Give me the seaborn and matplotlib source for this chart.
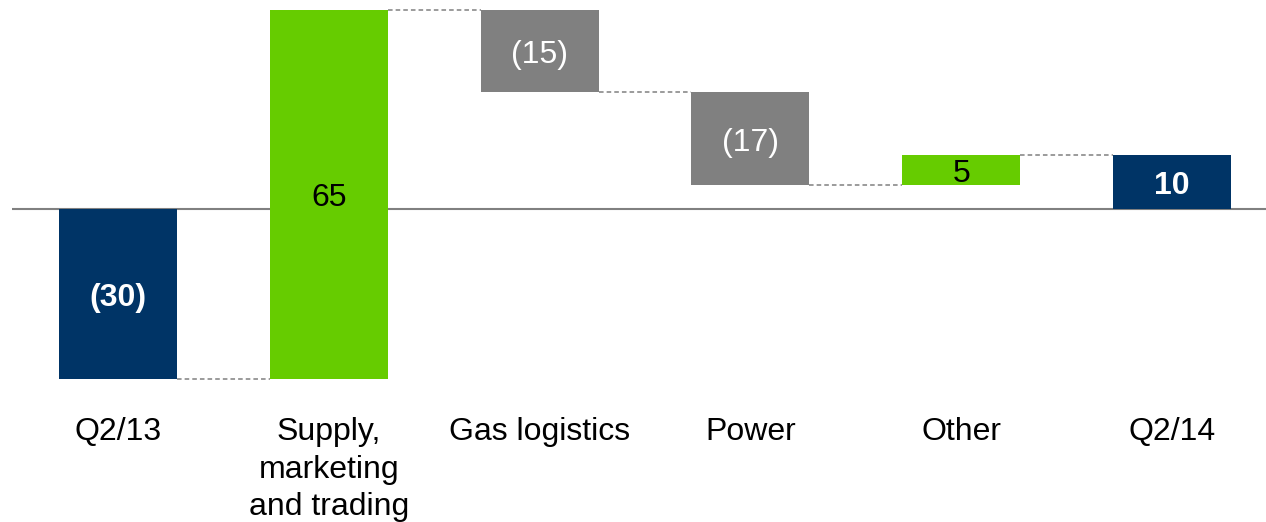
import numpy as np
import pandas as pd
import matplotlib
matplotlib.use("Agg")
import matplotlib.pyplot as plt
import seaborn as sns

# Waterfall: opening result, drivers, closing result
categories = ["Q2/13", "Supply,\nmarketing\nand trading", "Gas logistics", "Power", "Other", "Q2/14"]
opening = -30.0
changes = [65.2, -14.5, -16.5, 5.4]
kinds = ["total", "up", "down", "down", "up", "total"]

NAVY = "#003466"
GREEN = "#66CC00"
GREY = "#808080"
kind_colors = {"total": NAVY, "up": GREEN, "down": GREY}

# running totals
levels = [opening]
for c in changes:
    levels.append(levels[-1] + c)
closing = levels[-1]

heights = [opening] + changes + [closing]
bottoms = [0.0] + levels[:-1] + [0.0]

df = pd.DataFrame({"category": categories, "height": heights})

sns.set_theme(style="white")
plt.rcParams["font.family"] = ["Liberation Sans", "DejaVu Sans"]

W, H = 1266, 522
fig = plt.figure(figsize=(W / 100, H / 100), dpi=100)
ax = fig.add_axes([12 / W, (H - 400) / H, (W - 12) / W, 400 / H])

bar_w = 0.56
sns.barplot(data=df, x="category", y="height", order=categories,
            bottom=bottoms, width=bar_w, color=GREY, ax=ax, zorder=3,
            linewidth=0)

for patch, kind in zip(ax.patches, kinds):
    patch.set_facecolor(kind_colors[kind])
    patch.set_edgecolor("none")

ax.axhline(0, color=GREY, lw=1.5, zorder=1)

# dashed connectors between consecutive bars
for i, lvl in enumerate(levels):
    ax.plot([i + bar_w / 2, i + 1 - bar_w / 2], [lvl, lvl], color=GREY,
            lw=1.1, ls=(0, (3, 2)), zorder=2)

# value labels (rounded half up, negatives in brackets)
def fmt(v):
    r = int(np.floor(abs(v) + 0.5))
    return f"({r})" if v < 0 else f"{r}"

for i, (h, b, kind) in enumerate(zip(heights, bottoms, kinds)):
    y = b + h / 2
    if kind == "total":
        color, weight = "white", "bold"
    elif kind == "down":
        color, weight = "white", "normal"
    else:
        color, weight = "black", "normal"
    ax.annotate(fmt(h), (i, y), xytext=(0, -3), textcoords="offset points",
                ha="center", va="center", fontsize=23,
                color=color, fontweight=weight, zorder=4)

px = 5.667  # pixels per unit
ax.set_ylim(-(400 - 209) / px, 209 / px)
ax.set_xlim((12 - 118) / 210.8, (1266 - 118) / 210.8)

ax.set_xlabel("")
ax.set_ylabel("")
ax.set_yticks([])
ax.set_xticks(range(len(categories)))
ax.set_xticklabels(categories, fontsize=23, color="black", linespacing=1.32)
ax.tick_params(axis="x", length=0, pad=12.5)
for s in ax.spines.values():
    s.set_visible(False)

fig.savefig("out.png", dpi=100, facecolor="white")
